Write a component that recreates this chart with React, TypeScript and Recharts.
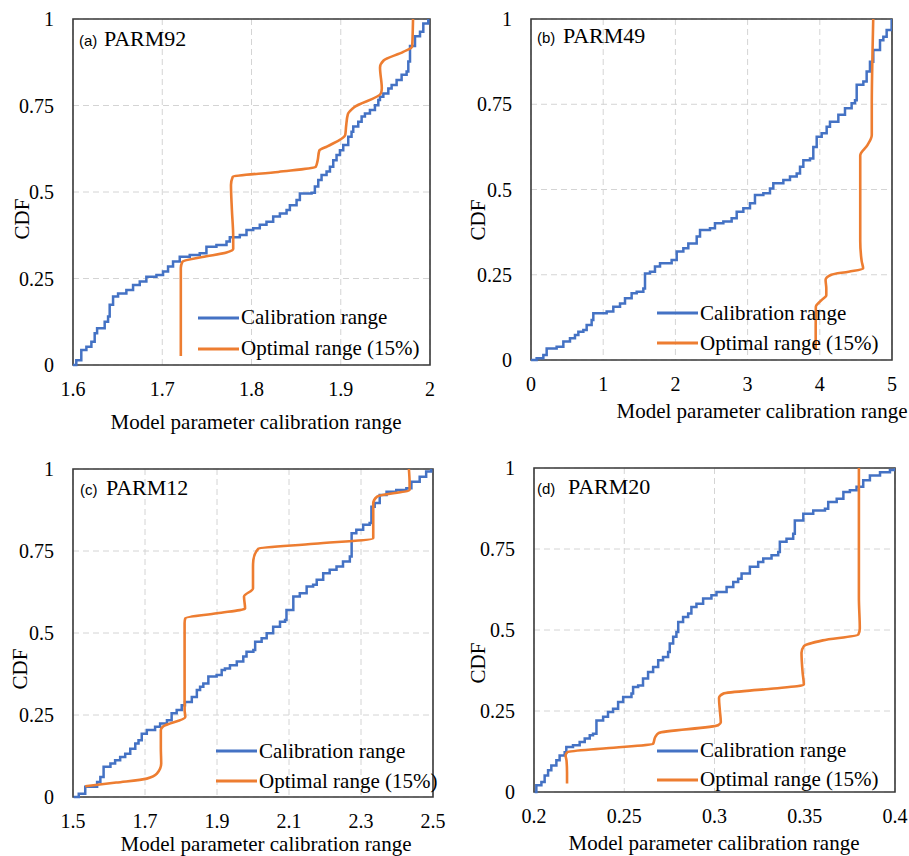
import React from 'react';
import { LineChart, Line, XAxis, YAxis, CartesianGrid, ReferenceArea, Legend } from 'recharts';

const SERIF = '"Liberation Serif", "Times New Roman", serif';
const SANS = '"Liberation Sans", Arial, sans-serif';
const BLUE = '#4472C4';
const ORANGE = '#ED7D31';

const cdfTicks = [0, 0.25, 0.5, 0.75, 1];
const parm92Ticks = [1.6, 1.7, 1.8, 1.9, 2];
const parm49Ticks = [0, 1, 2, 3, 4, 5];
const parm12Ticks = [1.5, 1.7, 1.9, 2.1, 2.3, 2.5];
const parm20Ticks = [0.2, 0.25, 0.3, 0.35, 0.4];

const seriesNames = ['Calibration range', 'Optimal range (15%)'];
const panelTitles = ['PARM92', 'PARM49', 'PARM12', 'PARM20'];
const panelLetters = ['(a)', '(b)', '(c)', '(d)'];
const xAxisTitle = 'Model parameter calibration range';
const yAxisTitle = 'CDF';

const parm92Calibration = [
  [1.6, 0], [1.6037, 0.014], [1.6093, 0.043], [1.615, 0.053], [1.6206, 0.067], [1.6243, 0.092], [1.627, 0.106],
  [1.6355, 0.125], [1.6393, 0.14], [1.6411, 0.174], [1.6449, 0.198], [1.6505, 0.207], [1.6598, 0.217], [1.6673, 0.231],
  [1.6748, 0.241], [1.6822, 0.255], [1.6935, 0.26], [1.7009, 0.27], [1.7065, 0.285], [1.7121, 0.299], [1.7196, 0.313],
  [1.7308, 0.318], [1.742, 0.323], [1.7495, 0.342], [1.7607, 0.347], [1.772, 0.357], [1.7757, 0.369], [1.7869, 0.376],
  [1.7944, 0.39], [1.8019, 0.395], [1.8093, 0.405], [1.8168, 0.414], [1.8243, 0.429], [1.8318, 0.438], [1.8393, 0.448],
  [1.843, 0.462], [1.8505, 0.477], [1.8542, 0.496], [1.8673, 0.498], [1.871, 0.516], [1.8748, 0.535], [1.8785, 0.549],
  [1.8841, 0.559], [1.8879, 0.573], [1.8916, 0.592], [1.8953, 0.607], [1.8991, 0.621], [1.9028, 0.636], [1.9084, 0.66],
  [1.9121, 0.674], [1.914, 0.689], [1.9196, 0.703], [1.9234, 0.718], [1.9271, 0.727], [1.9327, 0.737], [1.9383, 0.751],
  [1.9421, 0.766], [1.9439, 0.775], [1.9477, 0.785], [1.9533, 0.799], [1.957, 0.809], [1.9626, 0.824], [1.9682, 0.839],
  [1.9738, 0.848], [1.9757, 0.877], [1.9776, 0.922], [1.9832, 0.95], [1.9888, 0.963], [1.9925, 0.987], [1.9981, 1],
];
const parm92Optimal = [
  [1.7208, 0.026], [1.7208, 0.15], [1.7208, 0.28], [1.7225, 0.298], [1.745, 0.312], [1.772, 0.325], [1.7795, 0.335],
  [1.7795, 0.37], [1.778, 0.45], [1.777, 0.52], [1.779, 0.544], [1.83, 0.558], [1.872, 0.573], [1.874, 0.59],
  [1.876, 0.62], [1.885, 0.632], [1.905, 0.665], [1.906, 0.69], [1.908, 0.725], [1.915, 0.745], [1.945, 0.785],
  [1.946, 0.8], [1.944, 0.86], [1.948, 0.88], [1.97, 0.905], [1.98, 0.92], [1.9805, 0.95], [1.981, 1],
];

const parm49Calibration = [
  [0, 0], [0.078, 0.005], [0.171, 0.015], [0.217, 0.034], [0.355, 0.039], [0.448, 0.054], [0.54, 0.064], [0.609, 0.073],
  [0.656, 0.083], [0.725, 0.088], [0.771, 0.103], [0.84, 0.117], [0.863, 0.137], [1.048, 0.142], [1.14, 0.156],
  [1.233, 0.166], [1.302, 0.181], [1.394, 0.196], [1.464, 0.2], [1.556, 0.21], [1.579, 0.254], [1.648, 0.259],
  [1.717, 0.274], [1.787, 0.284], [1.948, 0.293], [2.018, 0.318], [2.11, 0.328], [2.179, 0.342], [2.295, 0.362],
  [2.341, 0.381], [2.479, 0.386], [2.548, 0.401], [2.664, 0.406], [2.779, 0.416], [2.849, 0.435], [2.941, 0.445],
  [3.033, 0.46], [3.102, 0.484], [3.218, 0.489], [3.31, 0.503], [3.356, 0.518], [3.495, 0.528], [3.587, 0.538],
  [3.68, 0.547], [3.726, 0.567], [3.772, 0.586], [3.864, 0.591], [3.91, 0.625], [3.957, 0.655], [4.026, 0.665],
  [4.095, 0.684], [4.141, 0.699], [4.257, 0.719], [4.349, 0.738], [4.441, 0.753], [4.488, 0.762], [4.511, 0.807],
  [4.603, 0.817], [4.649, 0.846], [4.695, 0.875], [4.741, 0.909], [4.834, 0.938], [4.88, 0.948], [4.926, 0.968],
  [4.995, 1],
];
const parm49Optimal = [
  [3.943, 0.029], [3.943, 0.1], [3.945, 0.156], [4.02, 0.175], [4.09, 0.19], [4.09, 0.21], [4.08, 0.235], [4.16, 0.25],
  [4.4, 0.259], [4.6, 0.268], [4.58, 0.29], [4.56, 0.35], [4.56, 0.5], [4.56, 0.6], [4.66, 0.63], [4.72, 0.66],
  [4.72, 0.75], [4.73, 0.9], [4.74, 1],
];

const parm12Calibration = [
  [1.502, 0], [1.516, 0.01], [1.534, 0.031], [1.567, 0.046], [1.576, 0.061], [1.585, 0.092], [1.604, 0.102],
  [1.617, 0.112], [1.631, 0.122], [1.645, 0.132], [1.659, 0.147], [1.673, 0.163], [1.682, 0.173], [1.691, 0.193],
  [1.705, 0.204], [1.728, 0.214], [1.742, 0.224], [1.761, 0.234], [1.774, 0.255], [1.788, 0.265], [1.802, 0.28],
  [1.811, 0.29], [1.83, 0.305], [1.844, 0.326], [1.853, 0.336], [1.862, 0.346], [1.876, 0.367], [1.899, 0.372],
  [1.913, 0.387], [1.922, 0.392], [1.936, 0.402], [1.955, 0.413], [1.973, 0.428], [1.982, 0.443], [2.001, 0.448],
  [2.006, 0.473], [2.024, 0.484], [2.038, 0.499], [2.056, 0.519], [2.075, 0.534], [2.089, 0.54], [2.093, 0.57],
  [2.112, 0.611], [2.13, 0.621], [2.149, 0.642], [2.167, 0.647], [2.177, 0.662], [2.195, 0.682], [2.213, 0.693],
  [2.232, 0.703], [2.25, 0.718], [2.269, 0.733], [2.274, 0.804], [2.287, 0.815], [2.306, 0.83], [2.324, 0.835],
  [2.329, 0.885], [2.338, 0.896], [2.352, 0.921], [2.371, 0.931], [2.398, 0.936], [2.426, 0.941], [2.44, 0.961],
  [2.463, 0.976], [2.481, 0.992], [2.495, 1],
];
const parm12Optimal = [
  [1.534, 0.033], [1.62, 0.044], [1.705, 0.056], [1.733, 0.071], [1.745, 0.102], [1.744, 0.15], [1.744, 0.204],
  [1.75, 0.215], [1.812, 0.244], [1.81, 0.265], [1.81, 0.4], [1.81, 0.53], [1.812, 0.545], [1.9, 0.56], [1.978, 0.575],
  [1.975, 0.611], [2.0, 0.636], [2.0, 0.7], [2.001, 0.723], [2.015, 0.757], [2.17, 0.772], [2.334, 0.789],
  [2.334, 0.85], [2.334, 0.896], [2.345, 0.916], [2.435, 0.937], [2.435, 0.957], [2.433, 1],
];

const parm20Calibration = [
  [0.2004, 0], [0.2013, 0.021], [0.2041, 0.031], [0.2059, 0.051], [0.2078, 0.067], [0.2096, 0.082], [0.2124, 0.098],
  [0.2142, 0.113], [0.217, 0.123], [0.2179, 0.139], [0.2216, 0.144], [0.2253, 0.154], [0.2281, 0.165], [0.2309, 0.175],
  [0.2327, 0.18], [0.2346, 0.221], [0.2383, 0.232], [0.241, 0.247], [0.2438, 0.257], [0.2466, 0.278], [0.2494, 0.293],
  [0.254, 0.304], [0.2549, 0.324], [0.2577, 0.329], [0.2604, 0.35], [0.2632, 0.37], [0.266, 0.386], [0.2688, 0.407],
  [0.2715, 0.417], [0.2743, 0.432], [0.2752, 0.458], [0.2771, 0.479], [0.2789, 0.494], [0.2799, 0.525], [0.2826, 0.54],
  [0.2854, 0.551], [0.2872, 0.571], [0.29, 0.581], [0.2937, 0.597], [0.2983, 0.607], [0.3011, 0.617], [0.3067, 0.633],
  [0.3104, 0.648], [0.3131, 0.658], [0.315, 0.674], [0.3196, 0.695], [0.3242, 0.71], [0.327, 0.721], [0.3316, 0.731],
  [0.3353, 0.741], [0.3362, 0.772], [0.3399, 0.782], [0.3436, 0.797], [0.3445, 0.838], [0.3492, 0.859], [0.3547, 0.869],
  [0.3612, 0.874], [0.363, 0.895], [0.3677, 0.905], [0.3714, 0.926], [0.375, 0.931], [0.3787, 0.942], [0.3824, 0.962],
  [0.3861, 0.977], [0.3917, 0.987], [0.3972, 0.994], [0.4, 1],
];
const parm20Optimal = [
  [0.2183, 0.026], [0.2183, 0.06], [0.218, 0.098], [0.2175, 0.113], [0.2185, 0.123], [0.24, 0.135], [0.266, 0.149],
  [0.2672, 0.17], [0.269, 0.182], [0.302, 0.206], [0.3035, 0.215], [0.303, 0.25], [0.3025, 0.29], [0.305, 0.304],
  [0.33, 0.318], [0.3495, 0.331], [0.3488, 0.37], [0.3482, 0.43], [0.3495, 0.45], [0.36, 0.468], [0.3797, 0.486],
  [0.3805, 0.505], [0.38, 0.6], [0.38, 1],
];

const toPoints = (arr: number[][]) => arr.map(([x, y]) => ({ x, y }));

type PanelCfg = {
  left: number; top: number; width: number; height: number;
  margin: { top: number; right: number; bottom: number; left: number };
  ticks: number[]; cal: number[][]; opt: number[][];
  legendLeft: number; legendTop: number; legendRow: number;
};

const panels: PanelCfg[] = [
  { left: 0, top: 0, width: 450, height: 430, margin: { top: 19, right: 20, bottom: 25, left: 13 },
    ticks: parm92Ticks, cal: parm92Calibration, opt: parm92Optimal, legendLeft: 198, legendTop: 302, legendRow: 31 },
  { left: 450, top: 0, width: 459, height: 430, margin: { top: 19, right: 17, bottom: 30, left: 21 },
    ticks: parm49Ticks, cal: parm49Calibration, opt: parm49Optimal, legendLeft: 207, legendTop: 298, legendRow: 30 },
  { left: 0, top: 430, width: 450, height: 426, margin: { top: 39, right: 17, bottom: 19, left: 13 },
    ticks: parm12Ticks, cal: parm12Calibration, opt: parm12Optimal, legendLeft: 216, legendTop: 306, legendRow: 30 },
  { left: 450, top: 430, width: 459, height: 426, margin: { top: 38, right: 14, bottom: 24, left: 24 },
    ticks: parm20Ticks, cal: parm20Calibration, opt: parm20Optimal, legendLeft: 207, legendTop: 306, legendRow: 29 },
];

// overlay text positions (page coordinates)
const titleSpots = [
  { lx: 79, px: 104, by: 46 },
  { lx: 537, px: 563, by: 43 },
  { lx: 80, px: 106, by: 495 },
  { lx: 537, px: 568, by: 494 },
];
const xTitleSpots = [
  { cx: 256, by: 429 },
  { cx: 762, by: 418 },
  { cx: 266, by: 851 },
  { cx: 714, by: 850 },
];
const yTitleSpots = [
  { bx: 29, cy: 219 },
  { bx: 485, cy: 220 },
  { bx: 27, cy: 669 },
  { bx: 485, cy: 663 },
];

const tickStyle = { fill: '#000', fontSize: 20, fontFamily: SERIF };

function makeLegend(row: number) {
  return (props: any) => {
    const payload = props.payload || [];
    return (
      <div style={{ fontFamily: SERIF, fontSize: 21, color: '#000' }}>
        {payload.map((p: any, i: number) => (
          <div key={i} style={{ display: 'flex', alignItems: 'center', height: row, whiteSpace: 'nowrap' }}>
            <svg width={41} height={4} style={{ display: 'block' }}>
              <line x1={0} y1={2} x2={41} y2={2} stroke={p.color} strokeWidth={3} />
            </svg>
            <span style={{ marginLeft: 2, lineHeight: `${row}px` }}>{p.value}</span>
          </div>
        ))}
      </div>
    );
  };
}

function Panel({ cfg }: { cfg: PanelCfg }) {
  const domain = [cfg.ticks[0], cfg.ticks[cfg.ticks.length - 1]];
  return (
    <div style={{ position: 'absolute', left: cfg.left, top: cfg.top, width: cfg.width, height: cfg.height }}>
      <LineChart width={cfg.width} height={cfg.height} margin={cfg.margin}>
        <CartesianGrid stroke="#d4d4d4" strokeDasharray="6 4" strokeWidth={1} />
        <XAxis type="number" dataKey="x" domain={domain} ticks={cfg.ticks} interval={0} allowDataOverflow
          tickLine={false} axisLine={false} tickSize={0} tickMargin={17} height={40} tick={tickStyle} />
        <YAxis type="number" domain={[0, 1]} ticks={cdfTicks} interval={0} width={60}
          tickLine={false} axisLine={false} tickSize={0} tickMargin={19} tick={tickStyle} />
        <ReferenceArea x1={domain[0]} x2={domain[1]} y1={0} y2={1} fill="none" fillOpacity={0}
          stroke="#3a3a3a" strokeWidth={1.6} ifOverflow="visible" />
        <Line data={toPoints(cfg.cal)} dataKey="y" name={seriesNames[0]} type="stepAfter" stroke={BLUE}
          strokeWidth={2.5} dot={false} activeDot={false} isAnimationActive={false} />
        <Line data={toPoints(cfg.opt)} dataKey="y" name={seriesNames[1]} type="monotoneY" stroke={ORANGE}
          strokeWidth={2.6} dot={false} activeDot={false} isAnimationActive={false} />
        <Legend layout="horizontal" verticalAlign="middle" align="center"
          wrapperStyle={{ left: cfg.legendLeft, top: cfg.legendTop, width: 'auto', height: 'auto' }}
          content={makeLegend(cfg.legendRow)} />
      </LineChart>
    </div>
  );
}

export default function App() {
  return (
    <div style={{ position: 'absolute', left: 0, top: 0, width: 909, height: 856, background: '#fff', overflow: 'hidden' }}>
      {panels.map((p, i) => <Panel key={i} cfg={p} />)}
      <svg width={909} height={856} style={{ position: 'absolute', left: 0, top: 0, pointerEvents: 'none' }}>
        {titleSpots.map((t, i) => (
          <g key={'t' + i}>
            <text x={t.lx} y={t.by} fontFamily={SANS} fontSize={15} fill="#000">{panelLetters[i]}</text>
            <text x={t.px} y={t.by} fontFamily={SERIF} fontSize={22} fill="#000">{panelTitles[i]}</text>
          </g>
        ))}
        {xTitleSpots.map((t, i) => (
          <text key={'x' + i} x={t.cx} y={t.by} textAnchor="middle" fontFamily={SERIF} fontSize={21} fill="#000">{xAxisTitle}</text>
        ))}
        {yTitleSpots.map((t, i) => (
          <text key={'y' + i} x={t.bx} y={t.cy} textAnchor="middle" transform={`rotate(-90 ${t.bx} ${t.cy})`}
            fontFamily={SERIF} fontSize={21} fill="#000">{yAxisTitle}</text>
        ))}
      </svg>
    </div>
  );
}
